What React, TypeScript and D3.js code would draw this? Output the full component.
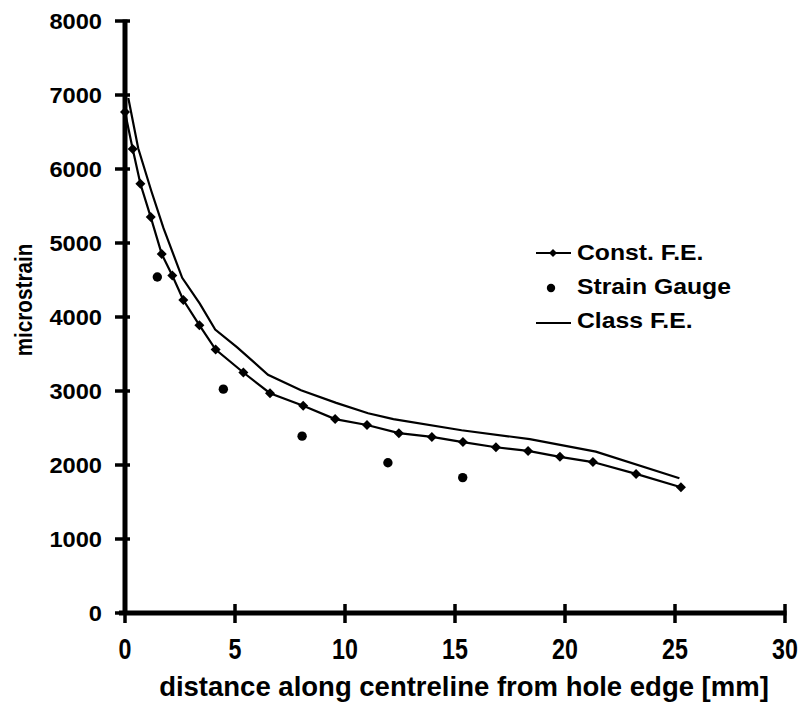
import React from "react";
import * as d3 from "d3";

const constX = [0, 0.35, 0.7, 1.17, 1.67, 2.15, 2.65, 3.38, 4.12, 5.38, 6.59, 8.1, 9.55, 11.0, 12.45, 13.95, 15.36, 16.86, 18.32, 19.77, 21.27, 23.23, 25.27];
const constY = [6770, 6270, 5800, 5350, 4850, 4560, 4230, 3890, 3560, 3250, 2970, 2800, 2620, 2540, 2430, 2380, 2310, 2240, 2190, 2110, 2040, 1880, 1700];

const gaugeX = [1.47, 4.47, 8.05, 11.95, 15.35];
const gaugeY = [4540, 3025, 2390, 2030, 1830];

const classX = [0.15, 0.6, 1.2, 1.75, 2.6, 3.4, 4.1, 5.1, 6.5, 8.0, 9.6, 11.05, 12.2, 15.3, 18.4, 21.4, 25.2];
const classY = [6960, 6280, 5700, 5200, 4530, 4180, 3830, 3590, 3220, 3010, 2840, 2700, 2620, 2470, 2350, 2180, 1820];

const xTicks = [0, 5, 10, 15, 20, 25, 30];
const yTicks = [0, 1000, 2000, 3000, 4000, 5000, 6000, 7000, 8000];

const legendLabels = ["Const. F.E.", "Strain Gauge", "Class F.E."];
const xTitle = "distance along centreline from hole edge [mm]";
const yTitle = "microstrain";

const FONT = "'Liberation Sans', Arial, Helvetica, sans-serif";

export default function App() {
  const W = 798, H = 702;
  const x = d3.scaleLinear().domain([0, 30]).range([125, 785]);
  const y = d3.scaleLinear().domain([0, 8000]).range([613, 21]);

  const constPts = constX.map((v, i) => [x(v), y(constY[i])] as [number, number]);
  const classPts = classX.map((v, i) => [x(v), y(classY[i])] as [number, number]);
  const line = d3.line();

  const diamond = (cx: number, cy: number, r: number) =>
    `M${cx},${cy - r}L${cx + r},${cy}L${cx},${cy + r}L${cx - r},${cy}Z`;

  const x0 = x(0), y0 = y(0);

  return (
    <svg width={W} height={H} style={{ position: "absolute", left: 0, top: 0, background: "#fff" }}>
      <rect x={0} y={0} width={W} height={H} fill="#fff" />
      {/* data */}
      <path d={line(classPts) || ""} fill="none" stroke="#000" strokeWidth={2.2} />
      <path d={line(constPts) || ""} fill="none" stroke="#000" strokeWidth={2.2} />
      {constPts.map((p, i) => (
        <path key={"d" + i} d={diamond(p[0], p[1], 5)} fill="#000" />
      ))}
      {gaugeX.map((v, i) => (
        <circle key={"g" + i} cx={x(v)} cy={y(gaugeY[i])} r={4.7} fill="#000" />
      ))}

      {/* axes */}
      <line x1={x0} x2={x0} y1={y(8000) - 1.5} y2={y0 + 2} stroke="#000" strokeWidth={5} />
      <line x1={x0 - 6} x2={x(30) + 1.5} y1={y0} y2={y0} stroke="#000" strokeWidth={5} />
      {yTicks.map((t) => (
        <g key={"yt" + t}>
          <line x1={x0 - 10} x2={x0 + 5} y1={y(t)} y2={y(t)} stroke="#000" strokeWidth={3.5} />
          <text
            transform={`translate(102, ${y(t) + 8}) scale(1.1, 1)`}
            textAnchor="end"
            fontFamily={FONT}
            fontWeight="bold"
            fontSize={21.5}
          >
            {t}
          </text>
        </g>
      ))}
      {xTicks.map((t) => (
        <g key={"xt" + t}>
          <line x1={x(t)} x2={x(t)} y1={y0 - 9} y2={y0 + 10} stroke="#000" strokeWidth={3.5} />
          <text
            transform={`translate(${x(t)}, 659) scale(0.8, 1)`}
            textAnchor="middle"
            fontFamily={FONT}
            fontWeight="bold"
            fontSize={29}
          >
            {t}
          </text>
        </g>
      ))}

      {/* axis titles */}
      <text x={464} y={696} textAnchor="middle" fontFamily={FONT} fontWeight="bold" fontSize={27.5}>
        {xTitle}
      </text>
      <text
        transform={`translate(32, 300) rotate(-90) scale(0.9, 1)`}
        textAnchor="middle"
        fontFamily={FONT}
        fontWeight="bold"
        fontSize={23}
      >
        {yTitle}
      </text>

      {/* legend */}
      <g>
        <line x1={536} x2={571} y1={253} y2={253} stroke="#000" strokeWidth={2.2} />
        <path d={diamond(553, 253, 4)} fill="#000" />
        <circle cx={551} cy={288} r={4.2} fill="#000" />
        <line x1={536} x2={571} y1={323} y2={323} stroke="#000" strokeWidth={2.2} />
        {legendLabels.map((s, i) => (
          <text
            key={s}
            transform={`translate(577, ${260 + i * 34}) scale(1.1, 1)`}
            fontFamily={FONT}
            fontWeight="bold"
            fontSize={22.5}
          >
            {s}
          </text>
        ))}
      </g>
    </svg>
  );
}
